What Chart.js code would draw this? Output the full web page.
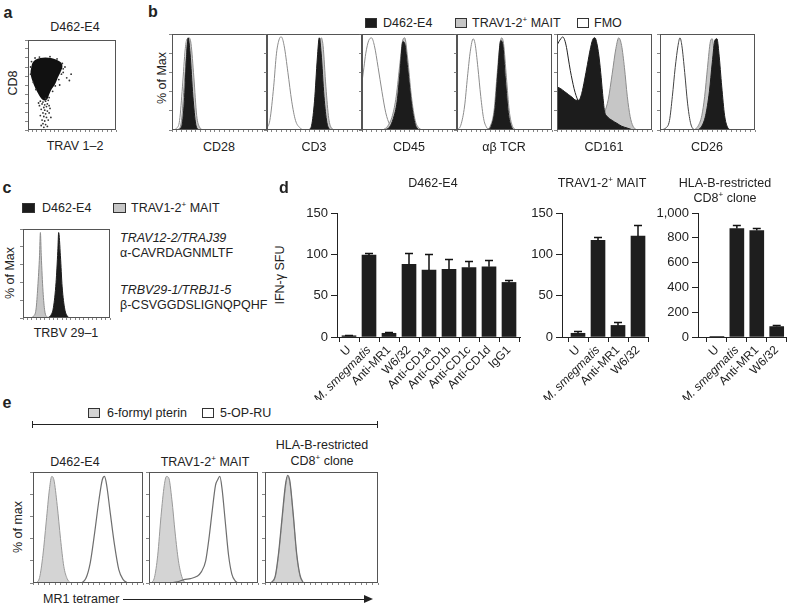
<!DOCTYPE html>
<html lang="en">
<head>
<meta charset="UTF-8" />
<title>MAIT clone D462-E4</title>
<script src="https://cdn.jsdelivr.net/npm/chart.js@4.4.1/dist/chart.umd.min.js"></script>
<style>
  body { margin: 0; width: 788px; height: 606px; position: relative; overflow: hidden; background: #fff;
         font-family: "Liberation Sans", Arial, sans-serif; color: #222; }
  canvas { position: absolute; }
  .lbl { position: absolute; white-space: nowrap; line-height: 1; }
  .lbl sup { font-size: 65%; vertical-align: 0.55em; line-height: 0; }
  .sq { position: absolute; width: 12px; height: 10px; box-sizing: border-box; border: 1px solid #333; }
  .ln { position: absolute; background: #222; }
</style>
</head>
<body>
<script>
const FONT = '"Liberation Sans", Arial, sans-serif';

// panel a: CD8 vs TRAV1-2 dot plot (display units 0-100)
const aBlob = [[5,70],[6,74],[9,77],[14,79],[20,79.5],[26,79],[32,77],[37,74],[38,70],[36,65],[33,59],[30,52],
  [26,46],[23,40],[21,35],[18,34],[15,37],[12,42],[8,50],[5,58],[4,64],[5,70]];
const aDots = [[14,32],[17,31],[20,32],[23,33],[16,29],[19,28],[22,29],[13,27],[18,25],[21,26],[24,27],[15,23],
  [19,22],[22,21],[17,19],[20,18],[24,19],[14,16],[18,15],[21,14],[16,11],[19,10],[23,11],[17,7],[20,6],[18,3],
  [22,4],[15,5],[25,24],[12,30],[26,14],[20,35],[24,36],[3,62],[3,70],[4,76],[8,80],[13,81],[25,81.5],[33,79],
  [39,74],[40,68],[38,62],[35,56],[31,49],[28,43],[9,45],[6,53],[40,64],[44,58],[47,55],[49,62],[42,70],[36,50]];

// panel b: histograms, [x, % of max]
const cd28Clone = [[5,0],[10,3],[13,30],[15,70],[17,96],[19,80],[22,35],[25,6],[28,0]];
const cd28Mait  = [[0,0],[7,1],[10,10],[13,50],[16,90],[18,96],[20,90],[23,55],[26,15],[29,3],[33,0]];
const cd28Fmo   = [[0,0],[5,2],[8,10],[11,45],[14,85],[16,95],[18,92],[21,60],[24,20],[27,4],[30,0],[100,0]];

const cd3Clone = [[44,0],[47,5],[50,30],[53,75],[55,96],[57,80],[60,35],[63,8],[66,0]];
const cd3Mait  = [[45,0],[48,5],[51,30],[54,75],[57,96],[59,88],[62,45],[65,12],[68,2],[72,0]];
const cd3Fmo   = [[0,2],[3,10],[7,45],[10,80],[13,95],[15,97],[18,88],[22,60],[26,30],[30,10],[35,2],[40,0],[100,0]];

const cd45Clone = [[24,0],[29,3],[33,12],[37,30],[40,60],[43,92],[45,90],[48,65],[52,28],[56,6],[60,0]];
const cd45Mait  = [[22,0],[27,4],[32,15],[36,35],[40,70],[43,94],[45,96],[48,75],[52,35],[56,10],[60,2],[64,0]];
const cd45Fmo   = [[0,50],[2,65],[4,80],[7,93],[10,96],[13,88],[17,65],[21,40],[25,18],[29,6],[33,1],[38,0],[100,0]];

const tcrClone = [[32,0],[36,4],[40,22],[43,60],[46,93],[48,90],[51,52],[54,18],[57,4],[60,0]];
const tcrMait  = [[30,0],[35,4],[39,20],[42,55],[45,88],[47,96],[49,90],[52,55],[55,20],[58,5],[62,0]];
const tcrFmo   = [[0,0],[4,5],[8,25],[11,55],[14,82],[17,95],[19,90],[22,65],[25,35],[28,12],[31,3],[35,0],[100,0]];

const cd161Clone = [[0,45],[4,43],[8,40],[12,37],[16,34],[20,31],[23,31],[26,38],[29,52],[32,68],[35,84],[38,95],
  [40,96],[42,90],[44,78],[46,60],[48,38],[50,20],[53,14],[58,10],[63,7],[68,4],[74,2],[80,0]];
const cd161Mait  = [[40,0],[44,4],[47,10],[50,18],[54,32],[58,58],[62,85],[65,96],[68,88],[71,65],[74,35],[77,14],[80,4],[84,0]];
const cd161Fmo   = [[0,88],[2,92],[4,95],[6,97],[8,94],[10,86],[12,74],[14,62],[16,52],[18,43],[20,36],[22,31],
  [25,26],[30,18],[36,10],[44,4],[52,1],[60,0],[100,0]];

const cd26Clone = [[40,0],[44,4],[48,15],[52,40],[55,70],[58,94],[60,95],[62,80],[65,45],[68,15],[71,3],[74,0]];
const cd26Mait  = [[36,0],[40,4],[44,15],[47,35],[50,65],[53,92],[55,95],[57,80],[60,45],[63,15],[66,3],[70,0]];
const cd26Fmo   = [[0,0],[6,2],[10,10],[13,35],[16,65],[19,88],[21,96],[23,88],[26,60],[29,28],[32,8],[35,1],[38,0],[100,0]];

// panel c: TRBV 29-1
const trbvClone = [[28,0],[32,3],[35,12],[38,40],[40,75],[41,96],[43,70],[45,35],[48,10],[51,2],[54,0]];
const trbvMait  = [[8,0],[12,2],[15,10],[17,35],[19,70],[20,96],[21,70],[23,30],[25,8],[28,1],[31,0]];

// panel d: IFN-gamma SFU
const d1Labels = ['U', 'M. smegmatis', 'Anti-MR1', 'W6/32', 'Anti-CD1a', 'Anti-CD1b', 'Anti-CD1c', 'Anti-CD1d', 'IgG1'];
const d1Values = [1.5, 99, 4.5, 88, 81, 82, 84, 85, 66];
const d1Errors = [1, 2.5, 1.5, 14, 20, 12, 8, 8, 2.5];
const d2Labels = ['U', 'M. smegmatis', 'Anti-MR1', 'W6/32'];
const d2Values = [4.5, 117, 14, 122];
const d2Errors = [3, 4, 4, 14];
const d3Labels = ['U', 'M. smegmatis', 'Anti-MR1', 'W6/32'];
const d3Values = [3, 875, 858, 85];
const d3Errors = [0, 25, 20, 10];
const sfuTicks = [0, 50, 100, 150];
const hlaTicks = [0, 200, 400, 600, 800, 1000];

// panel e: MR1 tetramer
const e1Pterin = [[3,0],[6,5],[9,25],[12,55],[15,85],[17,96],[19,93],[22,70],[25,40],[28,15],[31,4],[34,0]];
const e1Oprru  = [[44,0],[48,4],[52,18],[56,45],[60,75],[63,93],[65,96],[67,88],[70,65],[74,35],[78,12],[82,3],[86,0]];
const e2Pterin = [[2,0],[5,5],[8,25],[11,60],[14,88],[16,96],[18,95],[21,75],[24,45],[27,20],[30,6],[33,0]];
const e2Oprru  = [[20,0],[26,1],[32,3],[38,4],[44,6],[48,10],[52,20],[55,40],[58,65],[61,88],[63,93],[65,96],
  [67,85],[70,55],[73,25],[76,8],[79,2],[82,0]];
const e3Pterin = [[5,0],[9,5],[12,25],[15,55],[18,85],[20,96],[22,90],[25,60],[28,25],[31,6],[34,0]];
const e3Oprru  = [[5,0],[9,6],[12,27],[15,58],[18,88],[20,97],[22,92],[25,62],[28,27],[31,7],[34,0]];

// ---------- helpers ----------
const xy = pts => pts.map(p => ({ x: p[0], y: p[1] }));

function label(html, x, y, o = {}) {
  const d = document.createElement('div');
  d.className = 'lbl';
  d.innerHTML = html;
  d.style.left = x + 'px';
  d.style.top = y + 'px';
  d.style.fontSize = (o.size || 12.5) + 'px';
  if (o.bold) d.style.fontWeight = 'bold';
  if (o.italic) d.style.fontStyle = 'italic';
  const ax = o.left ? '0' : '-50%';
  d.style.transform = `translate(${ax},-50%)` + (o.rot ? ` rotate(${o.rot}deg)` : '');
  document.body.appendChild(d);
}

function box(cls, x, y, w, h, bg) {
  const d = document.createElement('div');
  d.className = cls;
  Object.assign(d.style, { left: x + 'px', top: y + 'px', width: w + 'px', height: h + 'px' });
  if (bg) d.style.background = bg;
  document.body.appendChild(d);
}

function mkCanvas(left, top, w, h) {
  const cv = document.createElement('canvas');
  cv.width = w; cv.height = h;
  Object.assign(cv.style, { left: left + 'px', top: top + 'px', width: w + 'px', height: h + 'px' });
  document.body.appendChild(cv);
  return cv;
}

// frame around plot area (flow plots)
const frame = {
  id: 'frame',
  afterDatasetsDraw(chart) {
    const { ctx, chartArea: a } = chart;
    ctx.save();
    ctx.strokeStyle = '#555';
    ctx.lineWidth = 1;
    ctx.strokeRect(a.left + 0.5, a.top + 0.5, a.right - a.left - 1, a.bottom - a.top - 1);
    ctx.restore();
  }
};

// upper error bars
const errorBars = {
  id: 'errorBars',
  afterDatasetsDraw(chart, args, opts) {
    const { ctx } = chart;
    const y = chart.scales.y;
    chart.getDatasetMeta(0).data.forEach((bar, i) => {
      const e = opts.errors[i];
      if (!e) return;
      const v = opts.values[i];
      const yTop = Math.round(y.getPixelForValue(v + e)) + 0.5;
      ctx.save();
      ctx.strokeStyle = '#111';
      ctx.lineWidth = 1.5;
      ctx.beginPath();
      ctx.moveTo(bar.x, y.getPixelForValue(v));
      ctx.lineTo(bar.x, yTop);
      ctx.moveTo(bar.x - 4, yTop);
      ctx.lineTo(bar.x + 4, yTop);
      ctx.stroke();
      ctx.restore();
    });
  }
};

const flowAxis = (step, tl, fitKey, fitVal) => ({
  type: 'linear', min: 0, max: 100,
  ticks: { stepSize: step, display: false },
  grid: { drawOnChartArea: false, tickLength: tl, color: '#666', lineWidth: 0.8 },
  border: { display: false },
  afterFit: s => { s[fitKey] = fitVal; }
});

// histogram panel; curves listed top-most first
function histo(left, top, w, h, curves) {
  const cv = mkCanvas(left - 4, top - 1, w + 6, h + 5);
  new Chart(cv, {
    type: 'line',
    data: {
      datasets: curves.map(c => ({
        data: xy(c.pts),
        borderColor: c.line,
        backgroundColor: c.fill || 'transparent',
        fill: c.fill ? 'origin' : false,
        borderWidth: c.lw || 1,
        pointRadius: 0,
        cubicInterpolationMode: 'monotone'
      }))
    },
    options: {
      responsive: false, animation: false, events: [],
      layout: { padding: { top: 1, right: 2, left: 0, bottom: 0 } },
      plugins: { legend: { display: false }, tooltip: { enabled: false } },
      scales: { x: flowAxis(5, 2, 'height', 4), y: flowAxis(20, 3, 'width', 4) }
    },
    plugins: [frame]
  });
}

// bars on a linear x axis so the gap after the y axis can be kept (xMin < 0)
function barChart(left, top, w, h, axisW, padTop, padRight, axisH, labels, values, errors, yTicks, yMax, xMin, xMax) {
  const cv = mkCanvas(left, top, w, h);
  new Chart(cv, {
    type: 'bar',
    data: {
      datasets: [{ data: values.map((v, i) => ({ x: i, y: v })), backgroundColor: '#1e1e1e', borderWidth: 0, barThickness: 14 }]
    },
    options: {
      responsive: false, animation: false, events: [],
      layout: { padding: { top: padTop, right: padRight, left: 0, bottom: 0 } },
      plugins: { legend: { display: false }, tooltip: { enabled: false }, errorBars: { errors: errors, values: values } },
      scales: {
        x: {
          type: 'linear', min: xMin, max: xMax, offset: false,
          afterBuildTicks: s => { s.ticks = labels.map((l, i) => ({ value: i })); },
          grid: { drawOnChartArea: false, tickLength: 5, color: '#222' },
          border: { color: '#222' },
          ticks: {
            minRotation: 45, maxRotation: 45, autoSkip: false, color: '#222', padding: 1,
            callback: v => labels[v],
            font: c => ({ family: FONT, size: 12, style: labels[c.index] === 'M. smegmatis' ? 'italic' : 'normal' })
          },
          afterFit: s => { s.height = axisH; }
        },
        y: {
          min: 0, max: yMax,
          afterBuildTicks: s => { s.ticks = yTicks.map(v => ({ value: v })); },
          grid: { drawOnChartArea: false, tickLength: 6, color: '#222' },
          border: { color: '#222' },
          ticks: { color: '#222', padding: 3, font: { family: FONT, size: 13 } },
          afterFit: s => { s.width = axisW; }
        }
      }
    },
    plugins: [errorBars]
  });
}

// colours
const BLACK = '#1c1c1c', GREY = '#c6c6c6', GREYLINE = '#8c8c8c';

// ---------- panel a ----------
label('a', 8, 13, { bold: true, size: 16 });
label('D462-E4', 75, 27);
label('CD8', 13, 83, { rot: -90 });
label('TRAV 1–2', 75, 146);
{
  const cv = mkCanvas(24, 36, 96, 98);
  new Chart(cv, {
    type: 'scatter',
    data: {
      datasets: [
        { data: xy(aDots), pointRadius: 0.9, backgroundColor: '#333', borderWidth: 0 },
        { data: xy(aBlob), showLine: true, fill: 'shape', tension: 0.4, borderColor: '#111',
          backgroundColor: '#111', borderWidth: 2, pointRadius: 0 }
      ]
    },
    options: {
      responsive: false, animation: false, events: [],
      layout: { padding: { top: 1, right: 2, left: 0, bottom: 0 } },
      plugins: { legend: { display: false }, tooltip: { enabled: false } },
      scales: { x: flowAxis(5, 2, 'height', 4), y: flowAxis(10, 3, 'width', 4) }
    },
    plugins: [frame]
  });
}

// ---------- panel b ----------
label('b', 153, 12, { bold: true, size: 16 });
box('sq', 365, 18, 12, 10, BLACK);
label('D462-E4', 383, 23, { left: true });
box('sq', 455, 18, 12, 10, GREY);
label('TRAV1-2<sup>+</sup> MAIT', 472, 23, { left: true });
box('sq', 577, 18, 12, 10, '#fff');
label('FMO', 594, 23, { left: true });
label('% of Max', 162, 78, { rot: -90 });

const bPanels = [
  { x: 172, name: 'CD28', c: cd28Clone, m: cd28Mait, f: cd28Fmo, fl: GREYLINE },
  { x: 267, name: 'CD3', c: cd3Clone, m: cd3Mait, f: cd3Fmo, fl: GREYLINE },
  { x: 362, name: 'CD45', c: cd45Clone, m: cd45Mait, f: cd45Fmo, fl: GREYLINE },
  { x: 457, name: 'αβ TCR', c: tcrClone, m: tcrMait, f: tcrFmo, fl: GREYLINE },
  { x: 557, name: 'CD161', c: cd161Clone, m: cd161Mait, f: cd161Fmo, fl: '#222' },
  { x: 660, name: 'CD26', c: cd26Clone, m: cd26Mait, f: cd26Fmo, fl: '#444' }
];
bPanels.forEach(p => {
  histo(p.x, 34, 95, 96, [
    { pts: p.c, fill: BLACK, line: BLACK },
    { pts: p.m, fill: GREY, line: GREYLINE },
    { pts: p.f, line: p.fl }
  ]);
  label(p.name, p.x + 47, 147);
});

// ---------- panel c ----------
label('c', 7, 188, { bold: true, size: 16 });
box('sq', 22, 203, 13, 10, BLACK);
label('D462-E4', 42, 208, { left: true });
box('sq', 113, 203, 13, 10, GREY);
label('TRAV1-2<sup>+</sup> MAIT', 131, 208, { left: true });
label('% of Max', 10, 273, { rot: -90 });
histo(23, 229, 87, 89, [
  { pts: trbvClone, fill: BLACK, line: BLACK },
  { pts: trbvMait, fill: GREY, line: GREYLINE }
]);
label('TRBV 29–1', 66, 333);
label('TRAV12-2/TRAJ39', 120, 238, { left: true, italic: true });
label('α-CAVRDAGNMLTF', 120, 253, { left: true });
label('TRBV29-1/TRBJ1-5', 120, 290, { left: true, italic: true });
label('β-CSVGGDSLIGNQPQHF', 120, 305, { left: true });

// ---------- panel d ----------
label('d', 284, 188, { bold: true, size: 16 });
label('D462-E4', 433, 183);
label('TRAV1-2<sup>+</sup> MAIT', 602, 183);
label('HLA-B-restricted', 725, 183);
label('CD8<sup>+</sup> clone', 725, 198);
label('IFN-γ SFU', 280, 275, { rot: -90 });
barChart(285, 200, 245, 200, 52, 13, 10, 63, d1Labels, d1Values, d1Errors, sfuTicks, 150, -0.6, 8.55);
barChart(528, 200, 125, 200, 34, 13, 5, 63, d2Labels, d2Values, d2Errors, sfuTicks, 150, -0.8, 3.5);
barChart(655, 200, 133, 200, 43, 13, 1, 63, d3Labels, d3Values, d3Errors, hlaTicks, 1000, -0.95, 3.5);

// ---------- panel e ----------
label('e', 7, 403, { bold: true, size: 16 });
box('sq', 88, 408, 12, 10, '#d4d4d4');
label('6-formyl pterin', 107, 413, { left: true });
box('sq', 202, 408, 12, 10, '#fff');
label('5-OP-RU', 220, 413, { left: true });
box('ln', 32, 424, 346, 1);
box('ln', 32, 421, 1, 7);
box('ln', 377, 421, 1, 7);
label('D462-E4', 75, 462);
label('TRAV1-2<sup>+</sup> MAIT', 205, 462);
label('HLA-B-restricted', 322, 445);
label('CD8<sup>+</sup> clone', 322, 461);
label('% of max', 18, 527, { rot: -90 });
const ePanels = [
  { x: 33, w: 110, p: e1Pterin, o: e1Oprru },
  { x: 149, w: 109, p: e2Pterin, o: e2Oprru },
  { x: 265, w: 113, p: e3Pterin, o: e3Oprru }
];
ePanels.forEach(e => {
  histo(e.x, 472, e.w, 111, [
    { pts: e.o, line: '#6e6e6e', lw: 1.2 },
    { pts: e.p, fill: '#d4d4d4', line: '#9a9a9a' }
  ]);
});
label('MR1 tetramer', 43, 599, { left: true });
box('ln', 123, 599, 242, 1);
{
  const a = document.createElement('div');
  Object.assign(a.style, { position: 'absolute', left: '364px', top: '595px', width: 0, height: 0,
    borderTop: '4.5px solid transparent', borderBottom: '4.5px solid transparent', borderLeft: '9px solid #222' });
  document.body.appendChild(a);
}
</script>
</body>
</html>
